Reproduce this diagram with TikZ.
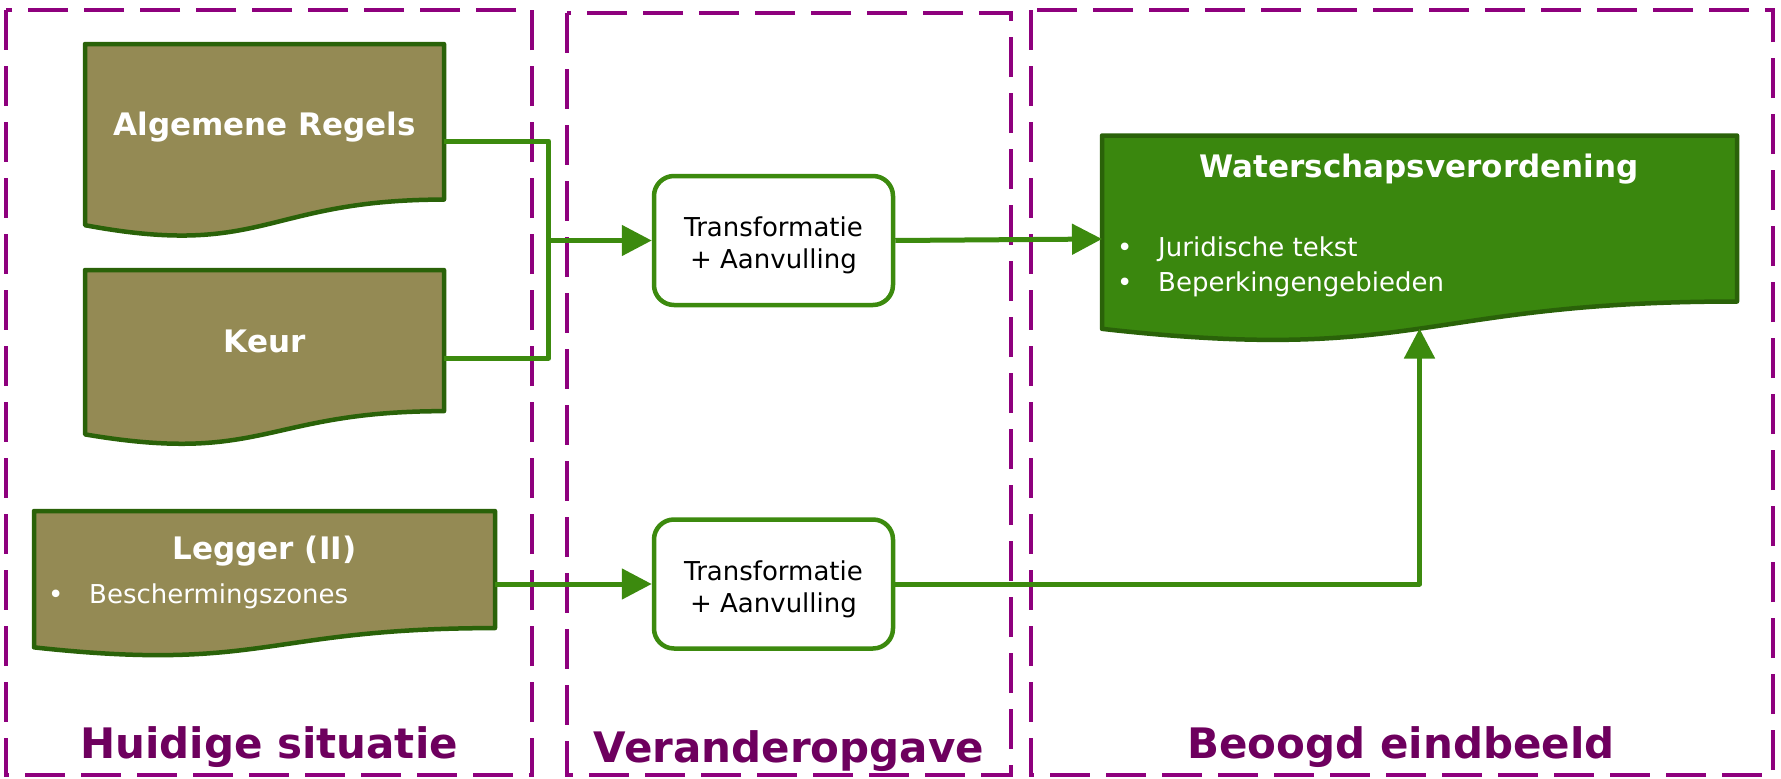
\documentclass[tikz,border=0pt]{standalone}
\usepackage{fontspec}
\setmainfont{DejaVu Sans}
\usetikzlibrary{arrows.meta, calc, positioning}

\definecolor{framepurple}{RGB}{142,0,125}
\definecolor{titlepurple}{RGB}{110,0,94}
\definecolor{doctan}{RGB}{148,138,84}
\definecolor{docedge}{RGB}{42,98,9}
\definecolor{procgreen}{RGB}{60,138,14}
\definecolor{wsvgreen}{RGB}{58,135,14}

% wavy document outline round an (empty) node
\newcommand{\docshape}[2]{%
  \draw[#2] let \p1=(#1.north west), \p2=(#1.south east),
    \n1={\y1+0.802*(\y2-\y1)}, \n2={\y1+1.1075*(\y2-\y1)},
    \n3={\y1+0.934*(\y2-\y1)}, \n4={0.5*(\x1+\x2)} in
    (\x1,\y1) -- (\x2,\y1) -- (\x2,\n1)
    .. controls (\n4,\n1) and (\n4,\n2) .. (\x1,\n3) -- cycle;}
\newcommand{\bul}{\makebox[41pt][l]{\textbullet}}
\newcommand{\tallline}{\rule{0pt}{30pt}}

\begin{document}
\begin{tikzpicture}[x=1pt, y=-1pt,
  frame/.style={draw=framepurple, line width=4.5pt, dash pattern=on 40pt off 16pt},
  docbox/.style={inner sep=0pt, outer sep=0pt},
  docfill/.style={fill=doctan, draw=docedge, line width=4.5pt, line join=round},
  wsvfill/.style={fill=wsvgreen, draw=docedge, line width=4.5pt, line join=round},
  doctitle/.style={anchor=base, text=white, font=\bfseries\fontsize{31}{37}\selectfont},
  doclist/.style={anchor=base west, text=white, align=left, inner sep=0pt, font=\fontsize{26}{35}\selectfont},
  proc/.style={draw=procgreen, line width=4.5pt, rounded corners=20pt, fill=white,
    minimum width=239pt, minimum height=129pt, align=center, font=\fontsize{26}{32}\selectfont},
  link/.style={draw=procgreen, line width=5pt, line join=round},
  arr/.style={link, -{Triangle[length=30pt,width=30pt]}},
  sectitle/.style={anchor=base, text=titlepurple, font=\bfseries\fontsize{42}{50}\selectfont}]
\useasboundingbox (0,0) rectangle (1781,779);

% three stages
\draw[frame] (6,10) rectangle (532,775);
\draw[frame] (567,13) rectangle (1011,775);
\draw[frame] (1031,10) rectangle (1773,775);

% current documents
\node[docbox, minimum width=359pt, minimum height=194pt] (alg) at (264.5,141) {};
\node[docbox, minimum width=359pt, minimum height=176pt] (keur) at (264.5,358) {};
\node[docbox, minimum width=461pt, minimum height=146pt] (legger) at (264.5,584) {};
\node[docbox, minimum width=635pt, minimum height=207pt] (wsv) at (1419.5,239) {};
\docshape{alg}{docfill}
\docshape{keur}{docfill}
\docshape{legger}{docfill}
\docshape{wsv}{wsvfill}

\node[doctitle] (algt) at (264.5,135) {Algemene Regels};
\node[doctitle] (keurt) at (264.5,352) {Keur};
\node[doctitle] (leggert) at (264.5,559) {Legger (II)};
\node[doclist] (leggerl) at (48,603) {\bul Beschermingszones};
\node[doctitle] (wsvt) at (1419,177) {Waterschapsverordening};
\node[doclist] (wsvl) at (1117,291) {\bul Juridische tekst\\\bul Beperkingengebieden};

% transformation steps
\node[proc] (t1) at (773.5,240.5) {\tallline Transformatie\\+ Aanvulling};
\node[proc] (t2) at (773.5,584) {\tallline Transformatie\\+ Aanvulling};

% connectors
\coordinate (jn) at ($(t1.west)+(-103,0)$);
\coordinate (wsvin) at ($(wsv.south)+(0,-14)$);
\draw[link] (alg.east) -| (jn) |- (keur.east);
\draw[arr] (jn) -- (t1.west);
\draw[arr] (t1.east) -- (wsv.west);
\draw[arr] (legger.east) -- (t2.west);
\draw[arr] (t2.east) -| (wsvin);

% stage titles
\node[sectitle] (huidig) at (269,758) {Huidige situatie};
\node[sectitle] (verander) at (789,762) {Veranderopgave};
\node[sectitle] (beoogd) at (1401,758) {Beoogd eindbeeld};
\end{tikzpicture}
\end{document}
